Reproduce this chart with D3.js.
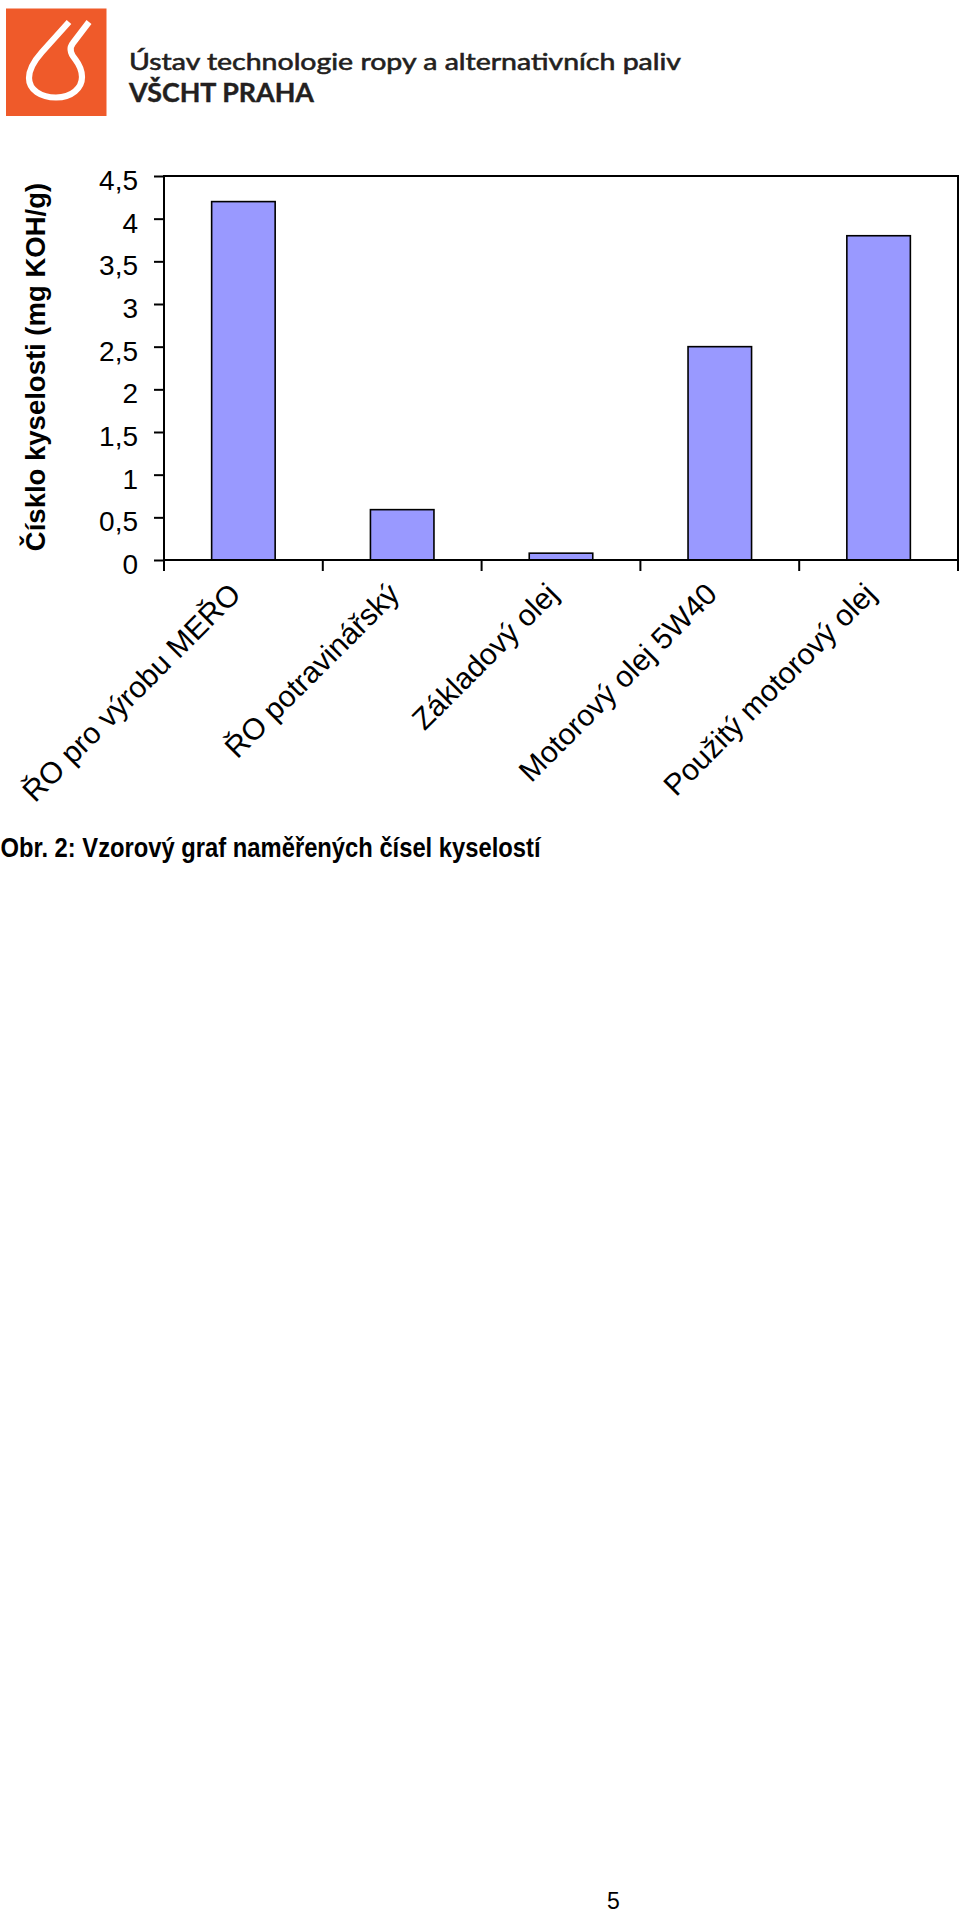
<!DOCTYPE html>
<html>
<head>
<meta charset="utf-8">
<script src="https://cdn.jsdelivr.net/npm/d3@7"></script>
<style>
  html, body { margin: 0; padding: 0; background: #ffffff; }
  svg { display: block; }
</style>
</head>
<body>
<svg id="chart" width="960" height="1916"></svg>
<script>
// ---- data ----
const categories = ["ŘO pro výrobu MEŘO", "ŘO potravinářský", "Základový olej", "Motorový olej 5W40", "Použitý motorový olej"];
const values = [4.2, 0.59, 0.08, 2.5, 3.8];
const yTicks = [0, 0.5, 1, 1.5, 2, 2.5, 3, 3.5, 4, 4.5];
const yTickLabels = ["0", "0,5", "1", "1,5", "2", "2,5", "3", "3,5", "4", "4,5"];
const yTitle = "Čísklo kyselosti (mg KOH/g)";
const headerLine1 = "Ústav technologie ropy a alternativních paliv";
const headerLine2 = "VŠCHT PRAHA";
const caption = "Obr. 2: Vzorový graf naměřených čísel kyselostí";
const pageNumber = "5";

// ---- layout ----
const svg = d3.select("#chart");
const plot = { left: 164, right: 958, top: 176, bottom: 560 };

// ---- header / logo ----
svg.append("rect")
  .attr("x", 6).attr("y", 8.5).attr("width", 100.5).attr("height", 107.5)
  .attr("fill", "#EF5A2A");
svg.append("path")
  .attr("d", "M 69,22 L 42,52 C 34,61 29,69 29,78 C 29,90 41,97.5 56,97.5 C 72,97.5 82,88 82,77 C 82,68 78,63 75,59 C 70,53 69,48 73,43 L 89,22")
  .attr("fill", "none").attr("stroke", "#ffffff").attr("stroke-width", 6.2)
  .attr("stroke-linejoin", "round");
svg.append("text")
  .attr("x", 129).attr("y", 70)
  .attr("font-family", "Lato, 'Open Sans', sans-serif")
  .attr("font-size", 24).attr("fill", "#231f20")
  .attr("stroke", "#231f20").attr("stroke-width", 0.6)
  .attr("textLength", 552).attr("lengthAdjust", "spacingAndGlyphs")
  .text(headerLine1);
svg.append("text")
  .attr("x", 129).attr("y", 101.5)
  .attr("font-family", "Lato, 'Open Sans', sans-serif")
  .attr("font-weight", "bold")
  .attr("font-size", 26).attr("fill", "#231f20")
  .attr("stroke", "#231f20").attr("stroke-width", 0.4)
  .attr("textLength", 185).attr("lengthAdjust", "spacingAndGlyphs")
  .text(headerLine2);

// ---- scales ----
const y = d3.scaleLinear().domain([0, 4.5]).range([plot.bottom, plot.top]);
const xCell = d3.scaleBand().domain(categories).range([plot.left, plot.right]).padding(0);
const xBar = d3.scaleBand().domain(categories).range([plot.left, plot.right])
  .paddingInner(0.6).paddingOuter(0.3);

const font = "'Liberation Sans', Arial, sans-serif";

// ---- bars ----
svg.append("g").selectAll("rect")
  .data(values)
  .join("rect")
  .attr("x", (d, i) => xBar(categories[i]))
  .attr("y", d => y(d))
  .attr("width", xBar.bandwidth())
  .attr("height", d => y(0) - y(d))
  .attr("fill", "#9999FF")
  .attr("stroke", "#000000")
  .attr("stroke-width", 1.6);

// ---- plot border ----
svg.append("rect")
  .attr("x", plot.left).attr("y", plot.top)
  .attr("width", plot.right - plot.left).attr("height", plot.bottom - plot.top)
  .attr("fill", "none").attr("stroke", "#000").attr("stroke-width", 2);

// ---- y axis ----
const yAxis = d3.axisLeft(y).tickValues(yTicks).tickSize(10).tickPadding(17)
  .tickFormat((d, i) => yTickLabels[i]);
const gy = svg.append("g").attr("transform", `translate(${plot.left},0)`).call(yAxis);
gy.select(".domain").remove();
gy.selectAll(".tick line").attr("stroke", "#000").attr("stroke-width", 2);
gy.selectAll(".tick text")
  .attr("font-family", font).attr("font-size", 28).attr("fill", "#000")
  .attr("dy", null).attr("y", 13.5).attr("x", -26);

// ---- x axis (ticks at category boundaries) ----
const boundaries = categories.map(c => xCell(c)).concat([plot.right]);
svg.append("g").selectAll("line")
  .data(boundaries)
  .join("line")
  .attr("x1", d => d).attr("x2", d => d)
  .attr("y1", plot.bottom).attr("y2", plot.bottom + 11)
  .attr("stroke", "#000").attr("stroke-width", 2);

svg.append("g").selectAll("text")
  .data(categories)
  .join("text")
  .attr("transform", d => `translate(${xCell(d) + xCell.bandwidth() / 2 - 1},${plot.bottom + 36}) rotate(-45)`)
  .attr("text-anchor", "end")
  .attr("font-family", font).attr("font-size", 30).attr("fill", "#000")
  .text(d => d);

// ---- y title ----
svg.append("text")
  .attr("transform", `translate(45,${(plot.top + plot.bottom) / 2 - 1}) rotate(-90)`)
  .attr("text-anchor", "middle")
  .attr("font-family", font).attr("font-weight", "bold").attr("font-size", 27.5).attr("fill", "#000")
  .text(yTitle);

// ---- caption ----
svg.append("text")
  .attr("x", 0.5).attr("y", 857)
  .attr("font-family", "'Liberation Sans Narrow', 'Liberation Sans', sans-serif")
  .attr("font-weight", "bold").attr("font-size", 27).attr("fill", "#000")
  .attr("textLength", 540).attr("lengthAdjust", "spacingAndGlyphs")
  .text(caption);

// ---- page number ----
svg.append("text")
  .attr("x", 613.5).attr("y", 1909)
  .attr("text-anchor", "middle")
  .attr("font-family", "'Liberation Sans', sans-serif")
  .attr("font-size", 23).attr("fill", "#000")
  .text(pageNumber);
</script>
</body>
</html>
